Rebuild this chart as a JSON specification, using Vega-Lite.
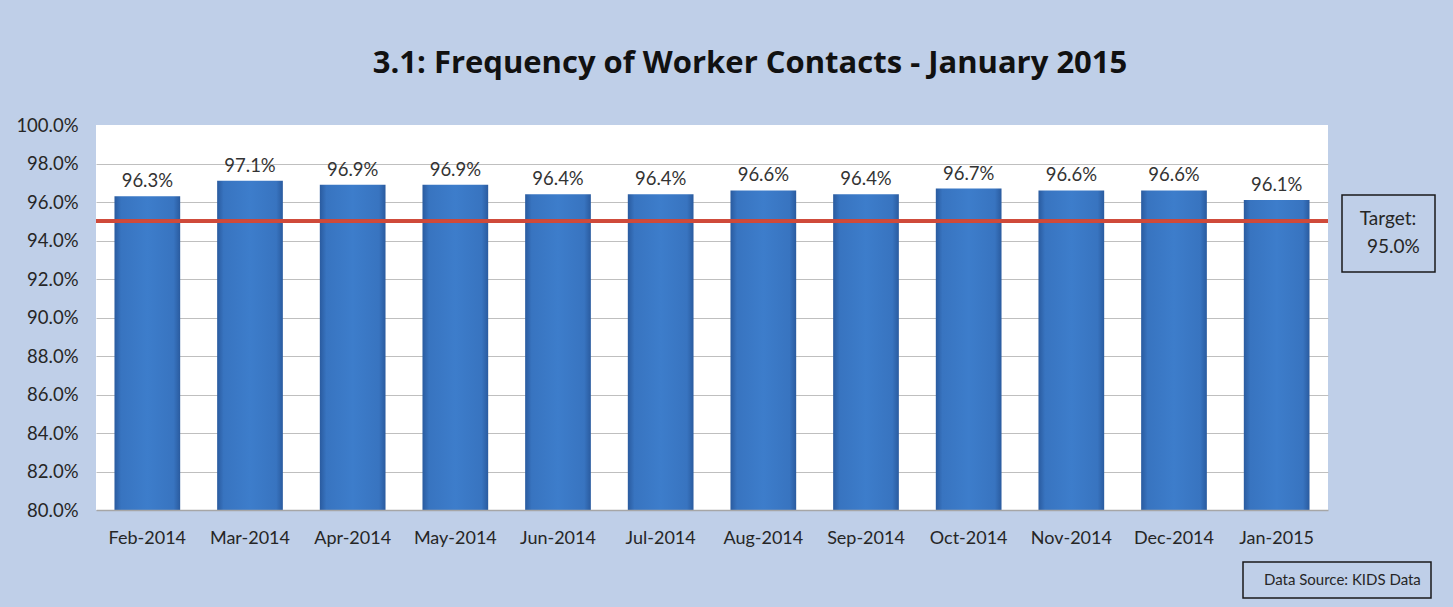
{
  "$schema": "https://vega.github.io/schema/vega-lite/v6.json",
  "autosize": "none",
  "width": 1232,
  "height": 385,
  "padding": {"left": 96, "top": 125, "right": 125, "bottom": 97},
  "background": "#bfcfe8",
  "config": {
    "view": {"fill": "white", "stroke": null},
    "font": "Lato",
    "legend": {"strokeWidth": 1.5}
  },
  "title": {
    "text": "3.1: Frequency of Worker Contacts - January 2015",
    "fontSize": 31,
    "fontWeight": "bold",
    "font": "Open Sans",
    "color": "#111111",
    "anchor": "middle",
    "dx": 38,
    "offset": 36
  },
  "data": {
    "values": [
      {"month": "Feb-2014", "rate": 0.963},
      {"month": "Mar-2014", "rate": 0.971},
      {"month": "Apr-2014", "rate": 0.969},
      {"month": "May-2014", "rate": 0.969},
      {"month": "Jun-2014", "rate": 0.964},
      {"month": "Jul-2014", "rate": 0.964},
      {"month": "Aug-2014", "rate": 0.966},
      {"month": "Sep-2014", "rate": 0.964},
      {"month": "Oct-2014", "rate": 0.967},
      {"month": "Nov-2014", "rate": 0.966},
      {"month": "Dec-2014", "rate": 0.966},
      {"month": "Jan-2015", "rate": 0.961}
    ]
  },
  "encoding": {
    "x": {
      "field": "month",
      "type": "nominal",
      "sort": null,
      "scale": {"paddingInner": 0.36, "paddingOuter": 0.18},
      "axis": {
        "title": null,
        "labelAngle": 0,
        "ticks": false,
        "labelPadding": 19,
        "labelFontSize": 18,
        "labelColor": "#262626",
        "domainColor": "#a6a6a6",
        "domainWidth": 1.5,
        "grid": false,
        "zindex": 1
      }
    },
    "y": {
      "field": "rate",
      "type": "quantitative",
      "scale": {"domain": [0.8, 1.0], "nice": false, "zero": false},
      "axis": {
        "title": null,
        "format": ".1%",
        "values": [0.8, 0.82, 0.84, 0.86, 0.88, 0.9, 0.92, 0.94, 0.96, 0.98, 1.0],
        "ticks": false,
        "domain": false,
        "labelPadding": 18,
        "labelFontSize": 18.5,
        "labelColor": "#262626",
        "gridColor": {"condition": {"test": "datum.value > 0.995 || datum.value < 0.805", "value": "transparent"}, "value": "#bfbfbf"},
        "gridWidth": 1
      }
    }
  },
  "layer": [
    {
      "mark": {
        "type": "bar",
        "clip": true,
        "fill": {
          "gradient": "linear",
          "x1": 0, "x2": 1, "y1": 0, "y2": 0,
          "stops": [
            {"offset": 0, "color": "#2a5b9f"},
            {"offset": 0.1, "color": "#3874c0"},
            {"offset": 0.5, "color": "#3d7dcb"},
            {"offset": 0.9, "color": "#3874c0"},
            {"offset": 1, "color": "#2a5b9f"}
          ]
        }
      }
    },
    {
      "mark": {"type": "text", "baseline": "bottom", "dy": -5, "fontSize": 18.5},
      "encoding": {
        "text": {"field": "rate", "type": "quantitative", "format": ".1%"},
        "color": {
          "datum": "Data Source: KIDS Data",
          "scale": {"range": ["#333333"]},
          "legend": {
            "title": null,
            "orient": "none",
            "legendX": 1147,
            "legendY": 437,
            "strokeColor": "#1a1a1a",
            "padding": 10,
            "symbolSize": 0,
            "symbolOpacity": 0,
            "symbolStrokeWidth": 0,
            "labelOffset": -4,
            "labelFontSize": 15,
            "labelColor": "#262626",
            "labelFont": "Lato",
            "labelLimit": 400
          }
        }
      }
    },
    {
      "mark": {"type": "rule", "strokeWidth": 3},
      "encoding": {
        "x": null,
        "y": {"datum": 0.95},
        "color": {
          "datum": "95.0%",
          "scale": {"range": ["#cf4a3a"]},
          "legend": {
            "title": "Target:",
            "orient": "none",
            "legendX": 1246,
            "legendY": 70,
            "strokeColor": "#1a1a1a",
            "padding": 15,
            "symbolSize": 0,
            "symbolOpacity": 0,
            "symbolStrokeWidth": 0,
            "labelOffset": -9,
            "titleAnchor": "middle",
            "titleFontSize": 19,
            "titleFontWeight": "normal",
            "titleColor": "#262626",
            "titleFont": "Lato",
            "titlePadding": 8,
            "labelFontSize": 19,
            "labelColor": "#262626",
            "labelFont": "Lato"
          }
        }
      }
    }
  ],
  "resolve": {"scale": {"color": "independent"}, "legend": {"color": "independent"}}
}
